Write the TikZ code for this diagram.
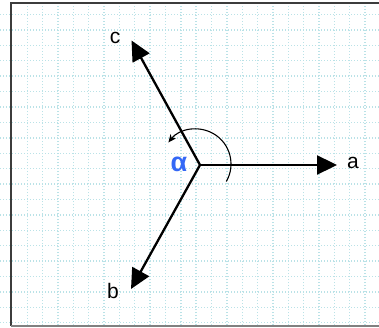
\documentclass[tikz,border=0pt]{standalone}
\usepackage{fontspec}
\setmainfont{Liberation Sans}
\usetikzlibrary{arrows.meta}
\definecolor{gridcol}{RGB}{186,226,231}
\definecolor{alphablue}{RGB}{52,104,246}
\definecolor{framegray}{RGB}{60,60,60}
\tikzset{
  gridline/.style={gridcol, line width=1.4pt, dash pattern=on 1.4pt off 1.6pt},
  vec/.style={line width=2.3pt, -{Triangle[length=20pt,width=19pt]}},
  anglearc/.style={line width=1.1pt, -{Stealth[length=8pt,width=7pt]}},
  lbl/.style={inner sep=0pt, font=\fontsize{21}{25}\selectfont},
}
\begin{document}
\begin{tikzpicture}[x=1pt,y=1pt]
\useasboundingbox (0,0) rectangle (379,327);
\fill[white] (0,0) rectangle (379,327);
% dotted grid
\foreach \k in {0,...,20} {
  \draw[gridline] (0,{312.4-15.4*\k}) -- (379,{312.4-15.4*\k});
}
\foreach \k in {0,...,22} {
  \draw[gridline] ({27.3+15.35*\k},2) -- ({27.3+15.35*\k},324);
}
% frame
\draw[framegray, line width=1.8pt] (10,324) -- (379,324);
\draw[framegray, line width=1.4pt] (11,324) -- (11,1.5);
\draw[gray, line width=1.4pt] (11,1.2) -- (379,1.2);
% vectors
\coordinate (O) at (200,162);
\coordinate (A) at (337,162);
\coordinate (B) at (131,38);
\coordinate (C) at (131.5,286.5);
\draw[vec] (O) -- (A);
\draw[vec] (O) -- (B);
\draw[vec] (O) -- (C);
\node[lbl] (la) at (353,164) {a};
\node[lbl] (lb) at (113,36) {b};
\node[lbl] (lc) at (115,289) {c};
% angle between a and c
\coordinate (M) at (196,163);
\draw[anglearc] ([shift={(-30:35)}]M) arc[start angle=-30, end angle=142, radius=35];
\node[inner sep=0pt, text=alphablue, font=\bfseries\fontsize{27}{31}\selectfont] (alpha) at (179,163) {α};
\end{tikzpicture}
\end{document}
